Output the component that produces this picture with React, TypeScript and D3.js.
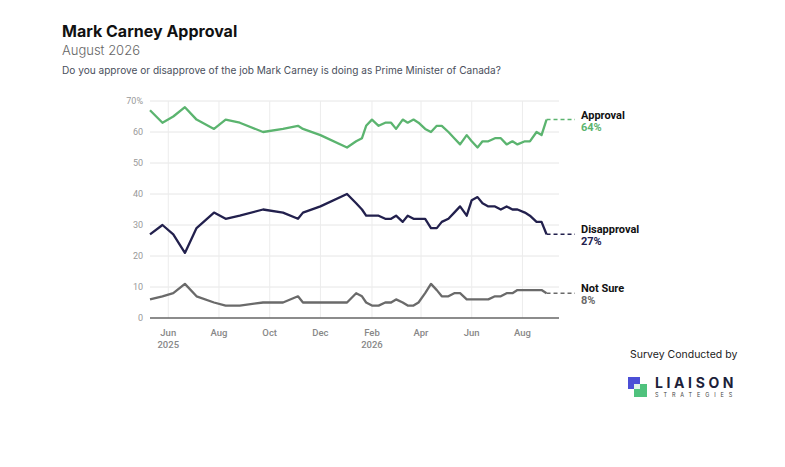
// @ts-nocheck
import { useEffect, useRef } from 'react';
import * as d3 from 'd3';

// poll dates and results (percent)
const pollDates = [
  '2025-05-10', '2025-05-25', '2025-06-07', '2025-06-21', '2025-07-05', '2025-07-26',
  '2025-08-09', '2025-08-26', '2025-09-23', '2025-10-17', '2025-11-04', '2025-11-10',
  '2025-12-01', '2026-01-02', '2026-01-13', '2026-01-20', '2026-01-25', '2026-02-01',
  '2026-02-09', '2026-02-17', '2026-02-24', '2026-03-02', '2026-03-10', '2026-03-16',
  '2026-03-23', '2026-03-29', '2026-04-06', '2026-04-13', '2026-04-20', '2026-04-26',
  '2026-05-04', '2026-05-11', '2026-05-18', '2026-05-26', '2026-06-01', '2026-06-08',
  '2026-06-14', '2026-06-21', '2026-06-29', '2026-07-06', '2026-07-13', '2026-07-20',
  '2026-07-26', '2026-08-04', '2026-08-10', '2026-08-18', '2026-08-24', '2026-08-30'
];

const approval = [
  67, 63, 65, 68, 64, 61, 64, 63, 60, 61, 62, 61,
  59, 55, 57, 58, 62, 64, 62, 63, 63, 61, 64, 63,
  64, 63, 61, 60, 62, 62, 60, 58, 56, 59, 57, 55,
  57, 57, 58, 58, 56, 57, 56, 57, 57, 60, 59, 64
];

const disapproval = [
  27, 30, 27, 21, 29, 34, 32, 33, 35, 34, 32, 34,
  36, 40, 37, 35, 33, 33, 33, 32, 32, 33, 31, 33,
  32, 32, 32, 29, 29, 31, 32, 34, 36, 33, 38, 39,
  37, 36, 36, 35, 36, 35, 35, 34, 33, 31, 31, 27
];

const notSure = [
  6, 7, 8, 11, 7, 5, 4, 4, 5, 5, 7, 5,
  5, 5, 8, 7, 5, 4, 4, 5, 5, 6, 5, 4,
  4, 5, 8, 11, 9, 7, 7, 8, 8, 6, 6, 6,
  6, 6, 7, 7, 8, 8, 9, 9, 9, 9, 9, 8
];

const tickDates = ['2025-06-01', '2025-08-01', '2025-10-01', '2025-12-01', '2026-02-01', '2026-04-01', '2026-06-01', '2026-08-01'];
const tickMonths = ['Jun', 'Aug', 'Oct', 'Dec', 'Feb', 'Apr', 'Jun', 'Aug'];
const tickYears = ['2025', '', '', '', '2026', '', '', ''];
const yTicks = [0, 10, 20, 30, 40, 50, 60, 70];

const seriesNames = ['Approval', 'Disapproval', 'Not Sure'];
const seriesColors = ['#5bb46f', '#22204d', '#6a6a6a'];

const App = () => {
  const svgRef = useRef();

  useEffect(() => {
    const svg = d3.select(svgRef.current);
    svg.selectAll('*').remove();

    const parse = d3.timeParse('%Y-%m-%d');
    const dates = pollDates.map(parse);

    const x = d3.scaleTime()
      .domain([parse('2025-05-10'), parse('2026-09-14')])
      .range([150, 559]);

    const y = d3.scaleLinear()
      .domain([0, 70])
      .range([318, 101]);

    // Titles
    svg.append('text')
      .attr('x', 62).attr('y', 37)
      .style('font-family', 'Inter, sans-serif')
      .style('font-size', '16px')
      .style('font-weight', 700)
      .attr('fill', '#111')
      .text('Mark Carney Approval');

    svg.append('text')
      .attr('x', 62).attr('y', 55)
      .style('font-family', 'Inter, sans-serif')
      .style('font-size', '13px')
      .style('font-weight', 300)
      .attr('fill', '#666')
      .text('August 2026');

    svg.append('text')
      .attr('x', 62).attr('y', 74)
      .style('font-family', 'Inter, sans-serif')
      .style('font-size', '10.1px')
      .attr('fill', '#4a4f5c')
      .text('Do you approve or disapprove of the job Mark Carney is doing as Prime Minister of Canada?');

    // Grid
    svg.append('g')
      .selectAll('line')
      .data(yTicks.filter(d => d > 0))
      .enter()
      .append('line')
      .attr('x1', 150).attr('x2', 559)
      .attr('y1', d => y(d)).attr('y2', d => y(d))
      .attr('stroke', '#e6e6e6')
      .attr('stroke-width', 1);

    svg.append('g')
      .selectAll('line')
      .data(tickDates.map(parse))
      .enter()
      .append('line')
      .attr('x1', d => x(d)).attr('x2', d => x(d))
      .attr('y1', y(70)).attr('y2', y(0))
      .attr('stroke', '#ececec')
      .attr('stroke-width', 1);

    // Baseline
    svg.append('line')
      .attr('x1', 150).attr('x2', 559)
      .attr('y1', y(0)).attr('y2', y(0))
      .attr('stroke', '#666')
      .attr('stroke-width', 1.5);

    // Y labels
    svg.append('g')
      .selectAll('text')
      .data(yTicks)
      .enter()
      .append('text')
      .attr('x', 143)
      .attr('y', d => y(d) + 3)
      .attr('text-anchor', 'end')
      .style('font-family', 'Roboto, sans-serif')
      .style('font-size', '9px')
      .attr('fill', '#999')
      .text(d => (d === 70 ? '70%' : d));

    // X labels
    const xl = svg.append('g');
    tickDates.forEach((t, i) => {
      const px = x(parse(t));
      xl.append('text')
        .attr('x', px).attr('y', 336)
        .attr('text-anchor', 'middle')
        .style('font-family', 'Roboto, sans-serif')
        .style('font-size', '9.5px')
        .style('font-weight', 500)
        .attr('fill', '#888')
        .text(tickMonths[i]);
      if (tickYears[i]) {
        xl.append('text')
          .attr('x', px).attr('y', 348)
          .attr('text-anchor', 'middle')
          .style('font-family', 'Roboto, sans-serif')
          .style('font-size', '9.5px')
          .style('font-weight', 500)
          .attr('fill', '#888')
          .text(tickYears[i]);
      }
    });

    // Lines
    const series = [approval, disapproval, notSure];
    const line = d3.line()
      .x((d, i) => x(dates[i]))
      .y(d => y(d));

    series.forEach((vals, s) => {
      svg.append('path')
        .datum(vals)
        .attr('d', line)
        .attr('fill', 'none')
        .attr('stroke', seriesColors[s])
        .attr('stroke-width', 2.3)
        .attr('stroke-linejoin', 'round');

      const last = vals[vals.length - 1];
      const lx = x(dates[dates.length - 1]);
      const ly = y(last);

      svg.append('line')
        .attr('x1', lx).attr('x2', 575)
        .attr('y1', ly).attr('y2', ly)
        .attr('stroke', seriesColors[s])
        .attr('stroke-width', 1.5)
        .attr('stroke-dasharray', '4,3');

      svg.append('text')
        .attr('x', 581).attr('y', ly - 1)
        .style('font-family', 'Roboto, sans-serif')
        .style('font-size', '11px')
        .style('font-weight', 700)
        .attr('fill', '#111')
        .text(seriesNames[s]);

      svg.append('text')
        .attr('x', 581).attr('y', ly + 11)
        .style('font-family', 'Roboto, sans-serif')
        .style('font-size', '11px')
        .style('font-weight', 700)
        .attr('fill', seriesColors[s])
        .text(`${last}%`);
    });

    // Footer
    svg.append('text')
      .attr('x', 630).attr('y', 358)
      .style('font-family', 'Inter, sans-serif')
      .style('font-size', '10.5px')
      .attr('fill', '#222')
      .text('Survey Conducted by');

    const logo = svg.append('g');
    logo.append('rect')
      .attr('x', 628).attr('y', 377).attr('width', 12).attr('height', 12)
      .attr('fill', '#4b4fd6');
    logo.append('rect')
      .attr('x', 634).attr('y', 384).attr('width', 13).attr('height', 13)
      .attr('fill', '#4fc27d');
    logo.append('rect')
      .attr('x', 634).attr('y', 384).attr('width', 6).attr('height', 5)
      .attr('fill', '#dff3e6');

    logo.append('text')
      .attr('x', 655).attr('y', 388)
      .style('font-family', 'Inter, sans-serif')
      .style('font-size', '14px')
      .style('font-weight', 700)
      .style('letter-spacing', '3.6px')
      .attr('fill', '#1d1f3a')
      .text('LIAISON');

    logo.append('text')
      .attr('x', 655).attr('y', 397)
      .style('font-family', 'Inter, sans-serif')
      .style('font-size', '5.5px')
      .style('letter-spacing', '4.9px')
      .attr('fill', '#444')
      .text('STRATEGIES');
  }, []);

  return (
    <svg
      ref={svgRef}
      width={785}
      height={467}
      style={{ position: 'absolute', left: 0, top: 0, background: '#fff' }}
    ></svg>
  );
};

export default App;
